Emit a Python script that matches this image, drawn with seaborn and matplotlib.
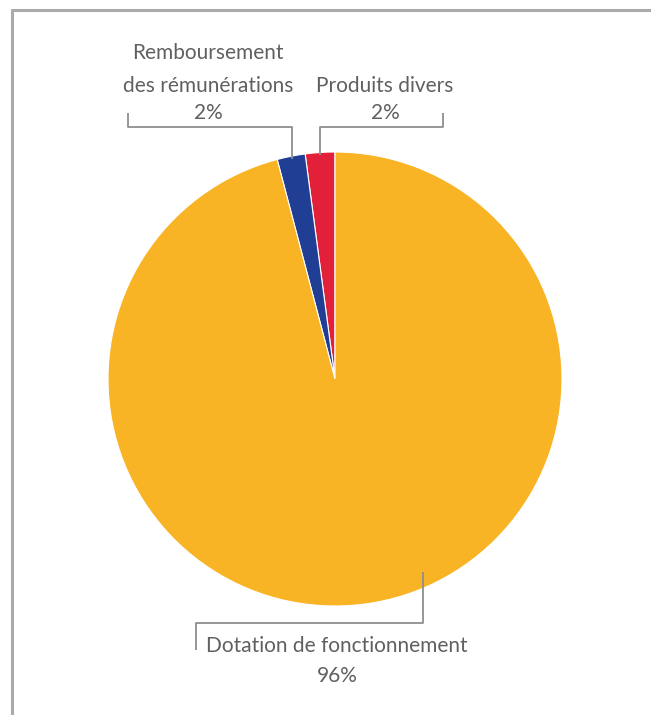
import numpy as np
import matplotlib
matplotlib.use("Agg")
import matplotlib.pyplot as plt
import seaborn as sns

# Data
categories = ["Produits divers", "Remboursement\ndes rémunérations", "Dotation de fonctionnement"]
values = [2.1, 2.0, 95.9]
pct_labels = ["2%", "2%", "96%"]
colors = ["#E2203A", "#203E94", "#F8B425"]

sns.set_theme(style="white")
plt.rcParams['font.family'] = ['Lato', 'DejaVu Sans']

W, H = 651, 715
fig = plt.figure(figsize=(W / 100, H / 100), dpi=100)
ax = fig.add_axes([0, 0, 1, 1])

cx, cy, r = 335, H - 379, 227
wedges, _ = ax.pie(values, colors=sns.color_palette(colors), startangle=90, counterclock=True,
                   center=(cx, cy), radius=r, frame=True,
                   wedgeprops=dict(edgecolor="white", linewidth=0.8))
ax.set_xlim(0, W)
ax.set_ylim(0, H)
ax.set_aspect("equal")
ax.axis("off")

def Y(y):
    return H - y

lc = "#8f8f8f"
lw = 1.3
tc = "#606060"
fs = 15

def rim(w, frac=1.0):
    a = np.deg2rad((w.theta1 + w.theta2) / 2)
    return cx + r * frac * np.cos(a), cy + r * frac * np.sin(a)

# Produits divers (red)
px, py = rim(wedges[0], 0.99)
ax.plot([px, px, 443, 443], [py, Y(127), Y(127), Y(113)], color=lc, lw=lw, solid_capstyle="butt")
ax.text(385, Y(86), categories[0], ha="center", va="center", fontsize=fs, color=tc)
ax.text(385, Y(113), pct_labels[0], ha="center", va="center", fontsize=fs, color=tc)

# Remboursement (blue)
bx, by = rim(wedges[1], 0.99)
ax.plot([128, 128, bx, bx], [Y(113), Y(127), Y(127), by], color=lc, lw=lw, solid_capstyle="butt")
ax.text(208, Y(53), "Remboursement", ha="center", va="center", fontsize=fs, color=tc)
ax.text(208, Y(86), "des rémunérations", ha="center", va="center", fontsize=fs, color=tc)
ax.text(208, Y(113), pct_labels[1], ha="center", va="center", fontsize=fs, color=tc)

# Dotation (orange)
ax.plot([423, 423, 196, 196], [Y(572), Y(623), Y(623), Y(650)], color=lc, lw=lw, solid_capstyle="butt")
ax.text(337, Y(646), categories[2], ha="center", va="center", fontsize=fs, color=tc)
ax.text(337, Y(676), pct_labels[2], ha="center", va="center", fontsize=fs, color=tc)

# Frame lines (top and left)
fig.add_artist(plt.Line2D([12 / W, 1], [1 - 10 / H, 1 - 10 / H], color="#aaaaaa", lw=2.2, transform=fig.transFigure))
fig.add_artist(plt.Line2D([12 / W, 12 / W], [0, 1 - 10 / H], color="#aaaaaa", lw=2.2, transform=fig.transFigure))

fig.savefig("out.png", dpi=100, facecolor="white")
